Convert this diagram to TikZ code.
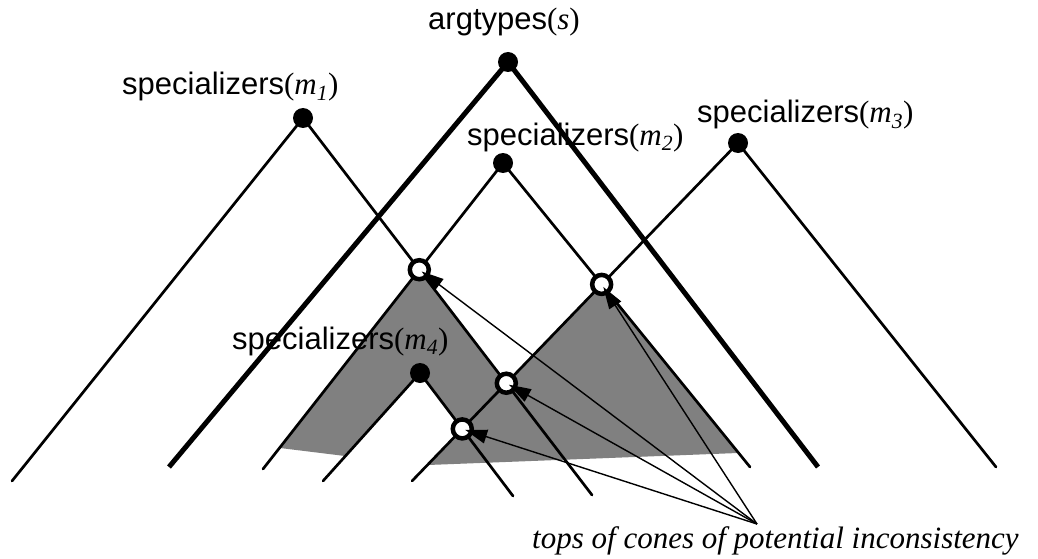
\documentclass[tikz,border=0pt]{standalone}
\usepackage{fontspec}
\setmainfont{Liberation Sans}
\newfontfamily\tms{Liberation Serif}
\usetikzlibrary{arrows.meta}
\definecolor{conegray}{HTML}{808080}
\newcommand{\spec}[1]{specializers{\tms(\textit{m}\textsubscript{\textit{#1}})}}

\begin{document}
\begin{tikzpicture}[x=1pt, y=-1pt,
  font=\fontsize{31}{37}\selectfont,
  edge/.style={line width=2.7pt, line cap=round},
  bigedge/.style={line width=5pt},
  dot/.style={circle, fill=black, inner sep=0pt, minimum size=20pt},
  hole/.style={circle, draw=black, fill=white, line width=4.5pt,
               inner sep=0pt, minimum size=19pt},
  ptr/.style={-{Triangle[length=22pt, width=14pt]}, line width=1.4pt,
              shorten >=3pt},
  lbl/.style={anchor=base west, inner sep=0pt}
]
  \useasboundingbox (0,0) rectangle (1038,559);

  % cone apexes and feet
  \coordinate (s) at (508,62);  \coordinate (sL) at (169,467);  \coordinate (sR) at (818,467);
  \coordinate (a1) at (303,118); \coordinate (a1L) at (12,481);  \coordinate (a1R) at (592,495);
  \coordinate (a2) at (503,163); \coordinate (a2L) at (263,469); \coordinate (a2R) at (750,467);
  \coordinate (a3) at (738,143); \coordinate (a3L) at (412,481); \coordinate (a3R) at (996,467);
  \coordinate (a4) at (420,373); \coordinate (a4L) at (323,481); \coordinate (a4R) at (513,496);

  % tops of the cones
  \coordinate (x12) at (intersection of a1--a1R and a2--a2L);
  \coordinate (x13) at (intersection of a1--a1R and a3--a3L);
  \coordinate (x23) at (intersection of a2--a2R and a3--a3L);
  \coordinate (x34) at (intersection of a4--a4R and a3--a3L);

  \fill[conegray] (x12) -- (x13) -- (x23) -- (738,453) -- (428,465) -- (x34)
    -- (a4) -- (345,456) -- (280,448) -- cycle;

  \draw[bigedge] (sL) -- (s) -- (sR);
  \draw[edge] (a1L) -- (a1) -- (a1R);
  \draw[edge] (a2L) -- (a2) -- (a2R);
  \draw[edge] (a3L) -- (a3) -- (a3R);
  \draw[edge] (a4L) -- (a4) -- (a4R);

  \node[dot] (ds) at (s) {};
  \node[dot] (d1) at (a1) {};
  \node[dot] (d2) at (a2) {};
  \node[dot] (d3) at (a3) {};
  \node[dot] (d4) at (a4) {};

  \node[hole] (h12) at (x12) {};
  \node[hole] (h13) at (x13) {};
  \node[hole] (h23) at (x23) {};
  \node[hole] (h34) at (x34) {};

  \node[lbl] (ts) at (428,30) {argtypes{\tms(\textit{s})}};
  \node[lbl] (t1) at (122,95) {\spec{1}};
  \node[lbl] (t2) at (467,145) {\spec{2}};
  \node[lbl] (t3) at (697,123) {\spec{3}};
  \node[lbl] (t4) at (232,349) {\spec{4}};

  \node[lbl, font=\tms\itshape\fontsize{31}{37}\selectfont] (note) at (532,548)
    {tops of cones of potential inconsistency};
  \coordinate (src) at (757,524);

  \draw[ptr] (src) -- (h12.center);
  \draw[ptr] (src) -- (h13.center);
  \draw[ptr] (src) -- (h23.center);
  \draw[ptr] (src) -- (h34.center);
\end{tikzpicture}
\end{document}
